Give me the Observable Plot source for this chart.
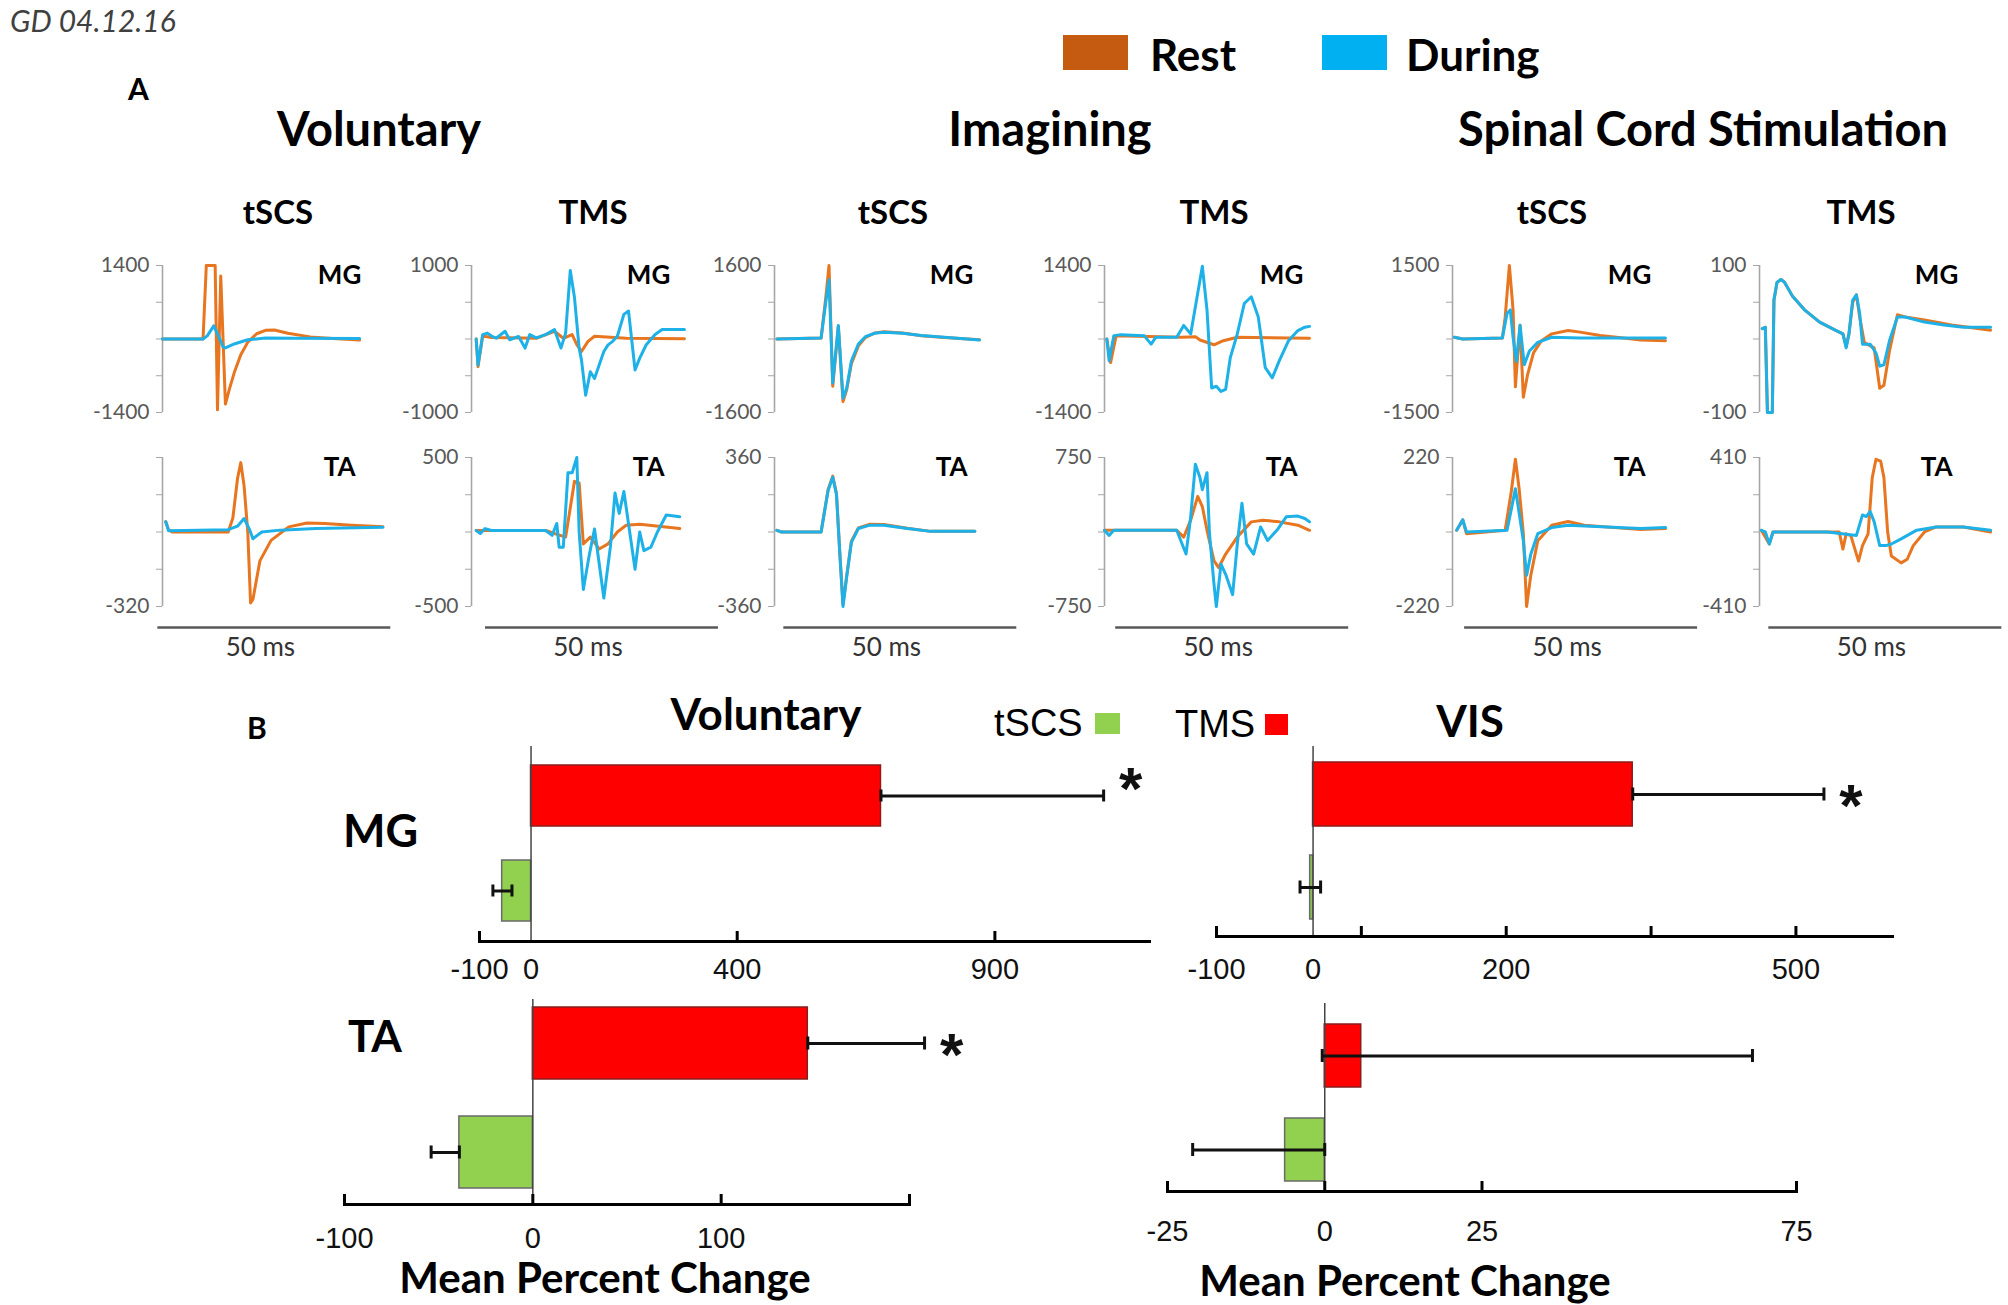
<!DOCTYPE html>
<html><head><meta charset="utf-8">
<script src="https://cdn.jsdelivr.net/npm/d3@7"></script>
<script src="https://cdn.jsdelivr.net/npm/@observablehq/plot@0.6"></script>
<style>
body{margin:0;background:#fff;}
#fig{position:relative;width:2008px;height:1305px;overflow:hidden;background:#fff;}
.t{position:absolute;white-space:nowrap;line-height:1;}
.sq{position:absolute;}
</style></head><body><div id="fig"></div>
<script>
// ---------- Panel A : text ----------
const conditionTitles = ["Voluntary", "Imagining", "Spinal Cord Stimulation"];
const stimTitles = ["tSCS", "TMS", "tSCS", "TMS", "tSCS", "TMS"];
const legendA = ["Rest", "During"];
const mgRange = [1400, 1000, 1600, 1400, 1500, 100];
const taRange = [320, 500, 360, 750, 220, 410];
const taTopLabel = [false, true, true, true, true, true];

// ---------- Panel A : traces [time ms, amplitude] ----------
const volTscsMG_rest = [[0,0],[8.7,0],[9.4,1400],[11.3,1400],[11.8,-1350],[12.5,1200],[13.5,-1240],[14.4,-940],[15.4,-640],[16.8,-300],[18.3,-60],[20.2,100],[22.1,165],[24,170],[26.9,110],[31.7,40],[36.5,10],[42.3,-20]];
const volTscsMG_during = [[0,0],[8.7,0],[9.6,60],[11,250],[12,60],[13,-150],[13.5,-170],[15.4,-95],[18.3,-15],[22.1,20],[28,15],[42.3,10]];
const volTscsTA_rest = [[0.7,44],[1.3,10],[2.1,0],[14.1,0],[15.1,60],[16.1,230],[16.8,298],[17.5,200],[18.3,0],[18.9,-305],[19.4,-290],[20.9,-124],[23.3,-36],[27.1,22],[31,39],[34.8,36],[40.6,29],[47.3,22]];
const volTscsTA_during = [[0.7,44],[1.3,5],[14.1,10],[16.1,25],[17.5,58],[18.7,10],[19.4,-29],[21.3,0],[25.2,8],[32.9,15],[47.3,20]];

const volTmsMG_rest = [[1,0],[1.4,-376],[2.4,40],[4.3,20],[13.9,10],[17.8,105],[19.7,10],[21.6,60],[22.6,-78],[23.6,-170],[25,-32],[26.4,37],[33.2,10],[45.7,5]];
const volTmsMG_during = [[1,0],[1.4,-353],[2.4,60],[3.4,80],[4.3,40],[5.3,10],[7.2,105],[8.2,-10],[10.1,35],[11.5,-124],[12.5,60],[13.9,15],[15.9,60],[17.8,128],[19.2,-124],[20.2,80],[21.2,931],[22.1,564],[23.1,-124],[23.6,-284],[24.5,-766],[25.5,-445],[26.4,-537],[27.4,-353],[28.4,-170],[29.3,-80],[30.3,-32],[31.3,37],[32.7,335],[33.7,380],[35.1,-422],[36.1,-261],[37.5,-78],[39.4,60],[40.9,128],[45.7,128]];
const volTmsTA_rest = [[1,10],[15.9,10],[17.8,-10],[20.2,-34],[22.1,340],[23.1,330],[24,-80],[25.5,-34],[27.4,-114],[29.3,-80],[31.3,0],[33.2,45],[36.1,52],[44.7,23]];
const volTmsTA_during = [[1,10],[1.9,-10],[2.9,23],[4.3,10],[15.9,10],[17.3,-23],[18.3,57],[18.8,-102],[19.7,-102],[20.7,397],[21.6,397],[22.6,500],[23.1,0],[24,-386],[25.3,-150],[26.4,20],[28.4,-443],[29.8,-100],[30.8,261],[31.7,125],[32.7,272],[35.1,-250],[36.1,0],[37,-125],[38.5,-102],[39.9,0],[41.8,114],[44.7,102]];

const imgTscsMG_rest = [[0.5,0],[10,20],[11,900],[11.7,1600],[12.5,-1030],[13.7,280],[14.7,-1362],[15.5,-1100],[16.5,-540],[18,-150],[19.5,30],[21.5,130],[23.5,160],[27.5,130],[31.5,70],[36.5,30],[44,-15]];
const imgTscsMG_during = [[0.5,0],[10,20],[11,800],[11.7,1290],[12.5,-957],[13.7,295],[14.7,-1288],[15.5,-1067],[16.5,-478],[18,-110],[19.5,50],[21.5,125],[23.5,147],[27.5,125],[31.5,75],[36.5,37],[44,-20]];
const imgTscsTA_rest = [[0.5,8],[1.5,0],[10,0],[11.5,205],[12.5,270],[13.3,185],[14,-95],[14.7,-350],[15.5,-210],[16.5,-45],[18,20],[20.5,38],[23.5,36],[28.5,18],[33.5,3],[43,3]];
const imgTscsTA_during = [[0.5,8],[1.5,0],[10,0],[11.5,200],[12.5,265],[13.3,182],[14,-99],[14.7,-360],[15.5,-215],[16.5,-50],[18,17],[20.5,33],[23.5,33],[28.5,17],[33.5,3],[43,3]];

const imgTmsMG_rest = [[0.5,0],[1.3,-450],[2.5,64],[16.5,32],[19.5,45],[20.5,-20],[23.5,-110],[25.5,-32],[28.5,32],[44,13]];
const imgTmsMG_during = [[0.5,0],[1,-418],[2,64],[3.5,83],[8.5,64],[10,-97],[11,32],[15.5,32],[17,258],[18.5,97],[21,1385],[22,547],[23,-934],[24,-900],[25,-998],[26,-960],[27,-354],[28.5,97],[30,676],[31.5,805],[33,418],[34.5,-547],[36,-740],[37.5,-418],[39.5,-32],[41.5,161],[43,225],[44,240]];
const imgTmsTA_rest = [[0,17],[15.5,17],[17,-51],[18.5,119],[20,358],[21,256],[22,17],[23.5,-290],[24.5,-358],[26,-222],[28.5,-51],[31.5,102],[34,119],[37.5,102],[41.5,68],[44,17]];
const imgTmsTA_during = [[0,17],[1,-34],[2,17],[15.5,17],[17.5,-222],[18.5,153],[19.5,682],[20.5,545],[21,426],[22,597],[22.5,0],[23.5,-528],[24,-750],[25,-324],[26,-426],[27.5,-631],[28.5,-119],[29.5,290],[30.5,-119],[32,-222],[33.5,51],[35,-85],[37,17],[39,153],[41.5,160],[43,136],[44,102]];

const scsTscsMG_rest = [[0.4,35],[2.2,0],[10.7,20],[11.3,440],[12.2,1500],[13,593],[13.5,-977],[13.9,-454],[14.5,279],[15.2,-1187],[16.1,-733],[17.4,-279],[19.1,-35],[21.3,105],[24.8,175],[27.4,140],[31.7,70],[35.2,35],[40.4,-20],[45.7,-35]];
const scsTscsMG_during = [[0.4,35],[2.2,0],[10.7,20],[11.7,523],[12.4,593],[13,35],[13.7,-454],[14.5,279],[15.4,-523],[16.5,-244],[18.3,-70],[21.3,35],[27.4,20],[45.7,20]];
const scsTscsTA_rest = [[0.9,5],[2.2,36],[3,-5],[11.3,5],[12.6,118],[13.5,215],[14.3,128],[15.2,-5],[15.9,-220],[16.8,-128],[18.3,-26],[21.3,20],[24.8,31],[28.3,20],[40.4,7],[45.7,10]];
const scsTscsTA_during = [[0.9,5],[2.2,36],[3,0],[11.7,5],[12.6,66],[13.5,128],[14.3,56],[15.2,-26],[15.9,-128],[16.8,-66],[18.3,-5],[21.3,13],[24.8,20],[40.4,10],[45.7,13]];

const scsTmsMG_rest = [[0.6,14],[1.25,16],[1.7,-100],[2.75,-100],[3.1,53],[3.75,77],[4.6,81],[5.4,77],[7.1,58],[9.6,40],[12.9,23],[16.25,12],[17.9,7],[18.6,-10],[19.2,7],[20,50],[20.8,60],[21.5,30],[22.5,-5],[24.6,-12],[25.8,-67],[26.7,-63],[27.9,-16],[29.6,33],[31.25,30],[35.4,26],[41.25,19],[49.6,12]];
const scsTmsMG_during = [[0.6,14],[1.25,16],[1.7,-100],[2.75,-100],[3.1,53],[3.75,77],[4.6,81],[5.4,77],[7.1,58],[9.6,40],[12.9,23],[16.25,12],[17.9,7],[18.6,-12],[19.2,7],[20,53],[20.8,60],[21.5,35],[22.1,-7],[23.75,-7],[25,-19],[25.8,-37],[26.7,-35],[27.9,-2],[29.6,30],[31.25,30],[35.4,23],[39.6,19],[43.75,16],[49.6,16]];
const scsTmsTA_rest = [[0.4,9],[2.1,-66],[2.9,0],[17.1,0],[17.9,-94],[18.6,-10],[19.6,-20],[21.25,-160],[22.1,-75],[23.3,-10],[24.2,300],[25,400],[26,390],[26.7,300],[27.5,0],[28.3,-132],[30.4,-170],[31.7,-150],[33,-75],[35.4,0],[37.9,28],[43.75,28],[49.6,0]];
const scsTmsTA_during = [[0.4,9],[1.25,0],[2.1,-66],[2.9,0],[14.6,0],[20.8,-19],[22.1,94],[22.9,85],[23.75,113],[24.6,57],[25.8,-75],[27.1,-75],[28.3,-66],[30.4,-38],[33.75,10],[37.9,28],[43.75,28],[49.6,9]];

// ---------- Panel B : bar data ----------
const barGroups = ["TMS", "tSCS"];
const legendB = ["tSCS", "TMS"];
const muscleLabels = ["MG", "TA"];
const bTitles = ["Voluntary", "VIS"];
const axisTitle = "Mean Percent Change";

const volMG_mean = [679, -56], volMG_lo = [679, -74], volMG_hi = [1111, -37], volMG_sig = [true, false];
const volTA_mean = [146, -39], volTA_lo = [146, -54], volTA_hi = [208, -39], volTA_sig = [true, false];
const visMG_mean = [331, -3],  visMG_lo = [331, -13.5], visMG_hi = [529, 7.8], visMG_sig = [true, false];
const visTA_mean = [5.8, -6.3], visTA_lo = [-0.4, -21], visTA_hi = [68, 0], visTA_sig = [false, false];

const volMG_domain = [-100, 1200], volMG_labels = [-100, 0, 400, 900], volMG_ticks = [-100, 400, 900];
const volTA_domain = [-100, 200],  volTA_labels = [-100, 0, 100],     volTA_ticks = [-100, 0, 100, 200];
const visMG_domain = [-100, 600],  visMG_labels = [-100, 0, 200, 500], visMG_ticks = [-100, 50, 200, 350, 500];
const visTA_domain = [-25, 75],    visTA_labels = [-25, 0, 25, 75],    visTA_ticks = [-25, 0, 25, 75];

// ---------- styling ----------
const REST_COLOR = "#E8751F", DURING_COLOR = "#1DB1E8";
const BAR_FILL = {TMS: "#FF0000", tSCS: "#92D050"};
const BAR_STROKE = {TMS: "#8a1c1c", tSCS: "#6a6a6a"};
const fig = document.getElementById("fig");

function txt(s, x, y, o = {}) {
  const d = document.createElement("div");
  d.className = "t"; d.textContent = s;
  Object.assign(d.style, {
    left: x + "px", top: y + "px", fontSize: (o.size || 20) + "px",
    fontWeight: o.weight || "normal", fontStyle: o.style || "normal",
    fontFamily: o.family || "Lato, 'Open Sans', sans-serif", color: o.color || "#000",
    transform: `translate(${o.anchor === "middle" ? "-50%" : "0"}, -50%)`
  });
  fig.appendChild(d);
}
function sq(x, y, w, h, c) {
  const d = document.createElement("div"); d.className = "sq";
  Object.assign(d.style, {left: x + "px", top: y + "px", width: w + "px", height: h + "px", background: c});
  fig.appendChild(d);
}
function place(svg, left, top) {
  svg.style.position = "absolute"; svg.style.left = left + "px"; svg.style.top = top + "px";
  fig.appendChild(svg);
}

// ---------- header texts ----------
txt("GD 04.12.16", 10, 20, {size: 30, style: "italic", color: "#404040"});
sq(1063, 35, 65, 35, "#C55A11"); txt(legendA[0], 1150, 54, {size: 44, weight: "bold"});
sq(1322, 35, 65, 35, "#00B0F0"); txt(legendA[1], 1406, 54, {size: 44, weight: "bold"});
txt("A", 128, 88, {size: 30, weight: "bold"});
[379, 1050, 1703].forEach((cx, k) => txt(conditionTitles[k], cx, 128, {size: 47, weight: "bold", anchor: "middle"}));
[278, 593, 893, 1214, 1552, 1861].forEach((cx, k) => txt(stimTitles[k], cx, 211, {size: 33, weight: "bold", anchor: "middle"}));

// ---------- trace panels ----------
const colX = [162, 471, 774, 1104, 1452, 1759];
const barStart = [-1, 3, 2, 2.4, 2.6, 2];
const PXMS = 4.66;
const panels = [
  [volTscsMG_rest, volTscsMG_during, volTscsTA_rest, volTscsTA_during],
  [volTmsMG_rest, volTmsMG_during, volTmsTA_rest, volTmsTA_during],
  [imgTscsMG_rest, imgTscsMG_during, imgTscsTA_rest, imgTscsTA_during],
  [imgTmsMG_rest, imgTmsMG_during, imgTmsTA_rest, imgTmsTA_during],
  [scsTscsMG_rest, scsTscsMG_during, scsTscsTA_rest, scsTscsTA_during],
  [scsTmsMG_rest, scsTmsMG_during, scsTmsTA_rest, scsTmsTA_during]
];
const toObj = a => a.map(([t, v]) => ({t, v}));

function tracePanel(i, muscle, rest, during, r, showTop, fTop, fBot, withBar) {
  const mL = 64, mR = 4, mT = 12, mB = withBar ? 56 : 12;
  const b0 = barStart[i];
  const w = mL + 52.6 * PXMS + mR, h = mT + (fBot - fTop) + mB;
  const svg = Plot.plot({
    width: w, height: h, marginLeft: mL, marginRight: mR, marginTop: mT, marginBottom: mB,
    x: {domain: [0, 52.6], axis: null},
    y: {domain: [-r, r], axis: null},
    style: {fontFamily: "Lato, 'Open Sans', sans-serif", background: "transparent", overflow: "visible"},
    marks: [
      Plot.ruleX([0], {y1: () => -r, y2: () => r, stroke: "#a6a6a6", strokeWidth: 1.6}),
      Plot.axisY({ticks: [-r, -r / 2, 0, r / 2, r], label: null, tickSize: 6, tickPadding: 7, stroke: "#a6a6a6", fill: "#595959",
        fontSize: 21, tickFormat: d => (d === -r || (d === r && showTop)) ? String(d) : ""}),
      Plot.line(toObj(rest), {x: "t", y: "v", stroke: REST_COLOR, strokeWidth: 3, strokeLinejoin: "round"}),
      Plot.line(toObj(during), {x: "t", y: "v", stroke: DURING_COLOR, strokeWidth: 3, strokeLinejoin: "round"}),
      Plot.text([muscle], {x: () => 38, y: () => r, dy: 10, text: d => d, fontSize: 26, fontWeight: "bold", fill: "#000"}),
      withBar ? Plot.ruleY([-r], {x1: () => b0, x2: () => b0 + 50, dy: 21, stroke: "#595959", strokeWidth: 2.5}) : null,
      withBar ? Plot.text(["50 ms"], {x: () => b0 + 22, y: () => -r, dy: 41, text: d => d, fontSize: 26, fill: "#333"}) : null
    ]
  });
  place(svg, colX[i] - mL, fTop - mT);
}
panels.forEach((p, i) => {
  tracePanel(i, "MG", p[0], p[1], mgRange[i], true, 265, 412, false);
  tracePanel(i, "TA", p[2], p[3], taRange[i], taTopLabel[i], 457, 606, true);
});

// ---------- Panel B ----------
txt("B", 247, 727, {size: 30, weight: "bold"});
txt(bTitles[0], 766, 713, {size: 44, weight: "bold", anchor: "middle"});
txt(bTitles[1], 1470, 720, {size: 44, weight: "bold", anchor: "middle"});
txt(legendB[0], 994, 723, {size: 38, family: "'Liberation Sans', Arial, sans-serif"});
sq(1095, 713, 25, 21, BAR_FILL.tSCS);
txt(legendB[1], 1175, 724, {size: 38, family: "'Liberation Sans', Arial, sans-serif"});
sq(1265, 714, 23, 21, BAR_FILL.TMS);
txt(muscleLabels[0], 343, 830, {size: 45, weight: "bold"});
txt(muscleLabels[1], 348, 1035, {size: 44, weight: "bold"});
txt(axisTitle, 605, 1277, {size: 42, weight: "bold", anchor: "middle"});
txt(axisTitle, 1405, 1280, {size: 42, weight: "bold", anchor: "middle"});

function barChart(c) {
  const mL = 45, mR = 45, mB = 70;
  const frameH = c.axisY - c.zeroTop;
  const w = mL + (c.x1 - c.x0) + mR, h = frameH + mB;
  const bw = (c.bandBottom - c.bandTop) * (1 - c.pad) / (2 - c.pad);
  const capInset = (bw - 13) / 2;
  const data = barGroups.map((g, k) => ({g, mean: c.mean[k], lo: c.lo[k], hi: c.hi[k], sig: c.sig[k]}));
  const svg = Plot.plot({
    width: w, height: h, marginLeft: mL, marginRight: mR, marginTop: 0, marginBottom: mB,
    x: {domain: c.domain},
    y: {domain: barGroups, range: [c.bandTop - c.zeroTop, c.bandBottom - c.zeroTop], paddingInner: c.pad, paddingOuter: 0, axis: null},
    style: {fontFamily: "'Liberation Sans', Arial, sans-serif", background: "transparent", overflow: "visible", color: "#111"},
    marks: [
      Plot.barX(data, {x: "mean", y: "g", fill: d => BAR_FILL[d.g], stroke: d => BAR_STROKE[d.g], strokeWidth: 1.5}),
      Plot.ruleX([0], {stroke: "#444", strokeWidth: 1.5}),
      Plot.ruleY(data, {x1: "lo", x2: "hi", y: "g", stroke: "#111", strokeWidth: 3}),
      Plot.tickX(data, {x: "lo", y: "g", stroke: "#111", strokeWidth: 3, insetTop: capInset, insetBottom: capInset}),
      Plot.tickX(data, {x: "hi", y: "g", stroke: "#111", strokeWidth: 3, insetTop: capInset, insetBottom: capInset}),
      Plot.text(data.filter(d => d.sig), {x: "hi", y: "g", text: () => "*", dx: 27, dy: c.starDy, fontSize: 60, fontWeight: "bold", fill: "#111"}),
      Plot.frame({anchor: "bottom", stroke: "#000", strokeWidth: 3}),
      Plot.ruleX(c.ticks, {insetTop: frameH - 10, stroke: "#000", strokeWidth: 3}),
      Plot.axisX({ticks: c.labels, label: null, tickSize: 0, tickPadding: c.labelPad, fontSize: 29, tickFormat: d => String(d)})
    ]
  });
  place(svg, c.x0 - mL, c.zeroTop);
}
barChart({mean: volMG_mean, lo: volMG_lo, hi: volMG_hi, sig: volMG_sig, domain: volMG_domain, labels: volMG_labels, ticks: volMG_ticks,
  x0: 479, x1: 1149, zeroTop: 746, axisY: 941, bandTop: 764, bandBottom: 922, pad: 0.354, labelPad: 17, starDy: -6});
barChart({mean: volTA_mean, lo: volTA_lo, hi: volTA_hi, sig: volTA_sig, domain: volTA_domain, labels: volTA_labels, ticks: volTA_ticks,
  x0: 344, x1: 909, zeroTop: 999, axisY: 1204, bandTop: 1007, bandBottom: 1188, pad: 0.34, labelPad: 23, starDy: 12});
barChart({mean: visMG_mean, lo: visMG_lo, hi: visMG_hi, sig: visMG_sig, domain: visMG_domain, labels: visMG_labels, ticks: visMG_ticks,
  x0: 1216, x1: 1892, zeroTop: 746, axisY: 936, bandTop: 762, bandBottom: 919, pad: 0.312, labelPad: 22, starDy: 12});
barChart({mean: visTA_mean, lo: visTA_lo, hi: visTA_hi, sig: visTA_sig, domain: visTA_domain, labels: visTA_labels, ticks: visTA_ticks,
  x0: 1167, x1: 1796, zeroTop: 1003, axisY: 1191, bandTop: 1024, bandBottom: 1181, pad: 0.33, labelPad: 29, starDy: 12});
</script></body></html>
